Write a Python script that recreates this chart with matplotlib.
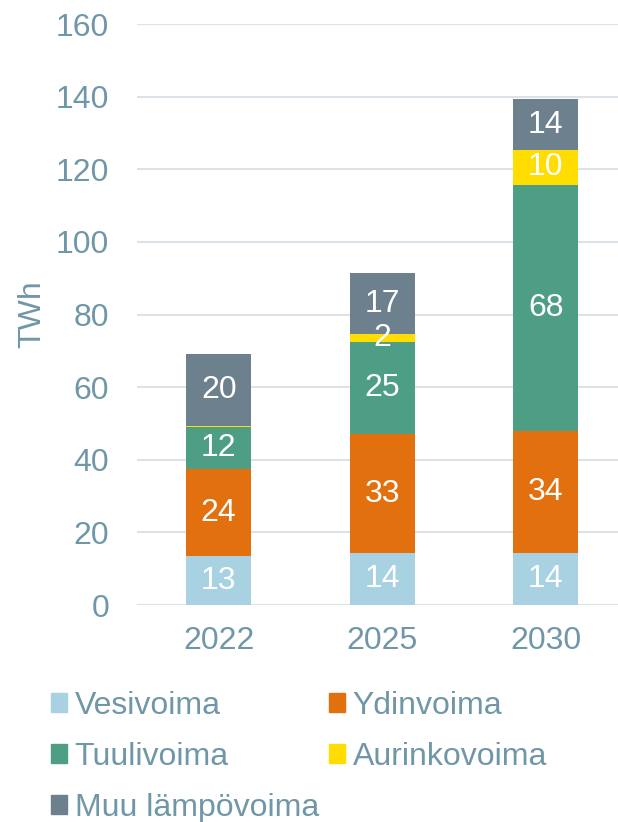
import numpy as np
import matplotlib.pyplot as plt
from matplotlib.patches import Patch

plt.rcParams['font.family'] = ['Liberation Sans', 'DejaVu Sans']

# data
years = ['2022', '2025', '2030']
vesivoima = [13.4, 14.3, 14.3]
ydinvoima = [24.0, 32.8, 33.6]
tuulivoima = [11.6, 25.3, 67.8]
aurinkovoima = [0.4, 2.2, 9.6]
muu_lampovoima = [19.7, 16.8, 14.0]
y_ticks = [0, 20, 40, 60, 80, 100, 120, 140, 160]

series = [('Vesivoima', vesivoima, '#A8D1E2'),
          ('Ydinvoima', ydinvoima, '#E2700F'),
          ('Tuulivoima', tuulivoima, '#4E9E86'),
          ('Aurinkovoima', aurinkovoima, '#FFDD00'),
          ('Muu lämpövoima', muu_lampovoima, '#6C808D')]

txt_col = '#7097A7'
grid_col = '#DCE3E8'
fs = 23

fig = plt.figure(figsize=(6.18, 8.22), dpi=100)
ax = fig.add_axes([137/618, 1-605/822, 481/618, 581/822])

x = np.arange(len(years))
bottom = np.zeros(len(years))
for name, vals, col in series:
    vals = np.array(vals)
    ax.bar(x, vals, 0.40, bottom=bottom, color=col, zorder=3)
    for xi, b, v in zip(x, bottom, vals):
        if v >= 1:
            ax.text(xi, b + v/2, f'{v:.0f}', ha='center', va='center',
                    color='white', fontsize=fs, zorder=4)
    bottom += vals

ax.set_xlim(-0.5, 2.442)
ax.set_ylim(0, 160)
ax.set_yticks(y_ticks)
ax.set_xticks(x)
ax.set_xticklabels(years)
ax.tick_params(axis='both', length=0, labelsize=fs, labelcolor=txt_col)
ax.tick_params(axis='y', pad=20)
ax.tick_params(axis='x', pad=15)
ax.grid(axis='y', color=grid_col, linewidth=1.5, zorder=0)
for s in ax.spines.values():
    s.set_visible(False)
ax.set_ylabel('TWh', fontsize=fs, color=txt_col, labelpad=6)

handles = [Patch(color=c, label=n) for n, v, c in series]
order = [0, 2, 4, 1, 3]
fig.legend([handles[i] for i in order], [series[i][0] for i in order],
           loc='upper left', bbox_to_anchor=(38/618, 1-678/822), ncol=2,
           frameon=False, fontsize=fs, labelcolor=txt_col,
           handlelength=0.5, handleheight=0.5, handletextpad=0.25,
           columnspacing=0.3, labelspacing=0.66, borderaxespad=0)

fig.savefig('out.png', dpi=100)
